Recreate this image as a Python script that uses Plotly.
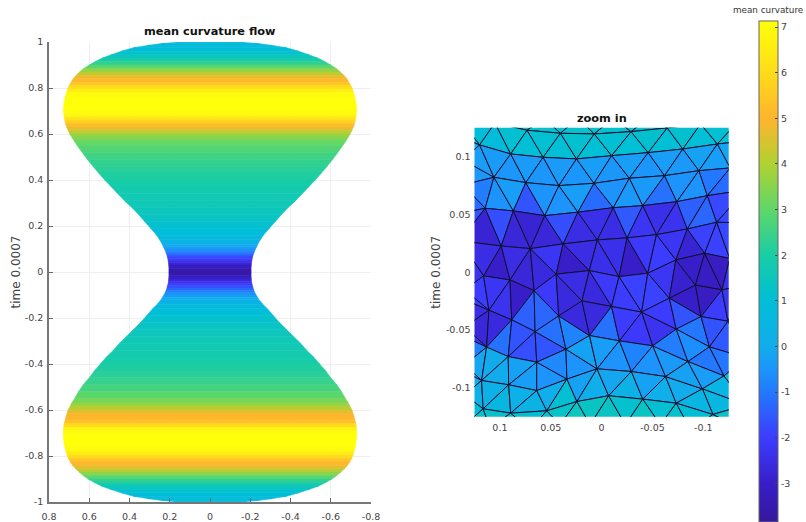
import plotly.graph_objects as go
from plotly.colors import sample_colorscale

# ---- colour bar ----
cb_min, cb_max = -3.84, 7.14
cb_ticks = [-3, -2, -1, 0, 1, 2, 3, 4, 5, 6, 7]
cmap_k = [-3.84, -3, -2, -1, -.5, 0, 1, 2, 3, 4, 5, 6, 7.14]
cmap_col = ["rgb(52,24,156)", "rgb(56,30,200)", "rgb(60,60,255)", "rgb(35,120,255)", "rgb(28,148,252)",
            "rgb(18,172,236)", "rgb(0,190,215)", "rgb(25,205,165)", "rgb(95,215,105)",
            "rgb(175,210,50)", "rgb(255,180,45)", "rgb(255,220,25)", "rgb(255,255,10)"]

# ---- left panel: band heights, half widths, curvature ----
flow_y = [1.0, .998, .993, .985, .975, .96, .945, .93, .915, .90, .885, .87, .855, .84, .825, .81, .795, .78, .765,
          .75, .73, .71, .69, .675, .66, .645, .63, .615, .60, .585, .57, .55, .52, .49, .46, .43, .40, .37, .34,
          .31, .28, .25, .22, .19, .16, .14, .13, .12, .11, .10, .09, .08, .07, .06, .05, .04, .03, .015, 0.0,
          -.015, -.03, -.04, -.05, -.06, -.07, -.08, -.09, -.10, -.11, -.12, -.13, -.14, -.16, -.19, -.22, -.25, -.28,
          -.31, -.34, -.37, -.40, -.43, -.46, -.49, -.52, -.55, -.57, -.585, -.60, -.615, -.63, -.645, -.66, -.675,
          -.69, -.71, -.73, -.75, -.765, -.78, -.795, -.81, -.825, -.84, -.855, -.87, -.885, -.90, -.915, -.93, -.945,
          -.96, -.975, -.985, -.993, -.998, -1.0]
flow_hw = [.12, .17, .24, .31, .38, .44, .49, .535, .57, .60, .627, .648, .665, .68, .69, .70, .708, .713, .718,
           .722, .726, .728, .727, .725, .722, .718, .712, .705, .696, .686, .675, .66, .635, .61, .582, .553, .523, .49, .458,
           .425, .388, .355, .325, .295, .265, .25, .243, .237, .232, .226, .221, .217, .213, .21, .208, .206, .205, .204, .204,
           .204, .205, .206, .208, .211, .214, .218, .223, .229, .236, .243, .252, .262, .285, .315, .345, .38, .415,
           .45, .48, .515, .545, .575, .60, .63, .653, .673, .687, .696, .705, .711, .716, .72, .725, .727,
           .728, .729, .727, .724, .72, .716, .711, .704, .695, .683, .668, .65, .63, .605, .575, .54, .495,
           .44, .38, .31, .24, .18, .13]
flow_k = [.75, .77, .8, .85, .9, 1.05, 1.3, 1.65, 2.1, 2.6, 3.2, 3.9, 4.5, 4.95, 5.2, 5.7, 6.3, 6.9, 7.1,
          7.14, 7.14, 7.14, 7.1, 6.7, 6.0, 5.4, 5.0, 4.4, 3.9, 3.5, 3.2, 2.95, 2.65, 2.45, 2.3, 2.15, 2.0, 1.85, 1.75,
          1.7, 1.6, 1.5, 1.3, 1.1, .85, .55, .3, .1, -.1, -.4, -.7, -1.1, -1.5, -1.9, -2.2, -2.6, -2.9, -3.4, -3.65,
          -3.4, -2.9, -2.6, -2.2, -1.9, -1.5, -1.1, -.7, -.4, -.1, .1, .3, .55, .85, 1.1, 1.3, 1.5, 1.6,
          1.7, 1.75, 1.85, 2.0, 2.15, 2.3, 2.5, 2.75, 3.1, 3.5, 3.9, 4.4, 4.8, 5.2, 5.0, 5.6, 6.4,
          7.0, 7.14, 7.14, 7.14, 7.1, 6.9, 6.3, 5.7, 5.2, 4.95, 4.5, 3.9, 3.2, 2.6, 2.1, 1.65, 1.3,
          1.05, .9, .85, .8, .77, .75]

axis1_ticks_x = [.8, .6, .4, .2, 0, -.2, -.4, -.6, -.8]
axis1_labels_x = ["0.8", "0.6", "0.4", "0.2", "0", "-0.2", "-0.4", "-0.6", "-0.8"]
axis1_ticks_y = [1, .8, .6, .4, .2, 0, -.2, -.4, -.6, -.8, -1]
axis1_labels_y = ["1", "0.8", "0.6", "0.4", "0.2", "0", "-0.2", "-0.4", "-0.6", "-0.8", "-1"]
axis2_ticks_x = [.1, .05, 0, -.05, -.1]
axis2_labels_x = ["0.1", "0.05", "0", "-0.05", "-0.1"]
axis2_ticks_y = [.1, .05, 0, -.05, -.1]
axis2_labels_y = ["0.1", "0.05", "0", "-0.05", "-0.1"]

# ---- right panel: triangle mesh (node names, data coordinates, faces with curvature) ----
mesh_nodes = {
    "A0": (.1375, .1299), "A1": (.1049, .1291), "A2": (.0733, .1228), "A3": (.0405, .1202), "A4": (.0072, .1196),
    "A5": (-.0290, .1216), "A6": (-.0645, .1248), "A7": (-.0974, .1282), "A8": (-.1319, .1282),
    "t0": (.0565, .1334), "t1": (.0230, .1334), "t2": (-.0113, .1334), "t3": (-.0461, .1334),
    "B0": (.1375, .1161), "B1": (.1200, .1101), "B2": (.0894, .1023), "B3": (.0575, .0994), "B4": (.0247, .0980),
    "B5": (-.0099, .1008), "B6": (-.0458, .1034), "B7": (-.0799, .1066), "B8": (-.1139, .1109), "B9": (-.1418, .1135),
    "X1": (.1365, .0971), "X2": (.1365, .0755), "X3": (.1375, .0513),
    "C1": (.1059, .0821), "C2": (.0746, .0775), "C3": (.0420, .0749), "C4": (.0075, .0769), "C5": (-.0273, .0813),
    "C6": (-.0619, .0835), "C7": (-.0957, .0878), "C8": (-.1265, .0902), "C9": (-.1517, .0884),
    "D1": (.1145, .0553), "D2": (.0868, .0530), "D3": (.0559, .0489), "D4": (.0233, .0519), "D5": (-.0115, .0558),
    "D6": (-.0405, .0576), "D7": (-.0740, .0610), "D8": (-.1040, .0662), "D9": (-.1418, .0712),
    "E0": (.1394, .0271), "E1": (.0987, .0227), "E2": (.0701, .0204), "E3": (.0378, .0245), "E4": (.0042, .0279),
    "E5": (-.0251, .0297), "E6": (-.0540, .0325), "E7": (-.0843, .0374), "E8": (-.1132, .0432), "E9": (-.1418, .0426),
    "F1": (.1161, -.0032), "F2": (.0901, -.0067), "M1": (.0664, -.0159), "F3": (.0447, -.0017), "F4": (.0121, .0014),
    "F5": (-.0172, -.0038), "F6": (-.0454, -.0009), "F7": (-.0730, .0106), "F8": (-.1014, .0164), "F9": (-.1260, .0119),
    "G1": (.1108, -.0329), "G2": (.0884, -.0412), "G3": (.0422, -.0378), "G4": (.0193, -.0248), "G5": (-.0098, -.0297),
    "G6": (-.0394, -.0345), "G7": (-.0666, -.0225), "G8": (-.0923, -.0112), "G9": (-.1184, -.0153),
    "P": (-.0978, -.0384), "Q": (-.1243, -.0424), "R": (-.1061, -.0646),
    "H1": (.1131, -.0648), "I1": (.0918, -.0730), "H2": (.0654, -.0514), "I2": (.0638, -.0778), "I3": (.0351, -.0666),
    "H3": (.0119, -.0548), "H4": (-.0175, -.0594), "H5": (-.0503, -.0637), "H6": (-.0734, -.0492),
    "J1": (.1180, -.0937), "J2": (.0914, -.0974), "J3": (.0638, -.1024), "J4": (.0341, -.0925), "K": (.0045, -.0836),
    "M": (-.0293, -.0859), "N": (-.0629, -.0903), "O": (-.0849, -.0773), "S": (-.1204, -.0897), "U": (-.0991, -.1009),
    "V": (-.0069, -.1069), "W": (-.0405, -.1098), "Y": (-.0734, -.1133), "Z": (.0243, -.1119), "AA": (.0539, -.1199),
    "AB": (.0894, -.1219), "AC": (.1165, -.1182), "BK": (-.1095, -.1231),
    "L1": (.1345, -.0153), "L2": (.1345, -.0239), "L3": (.1345, -.0473), "L4": (.1345, -.0559), "L5": (.1345, -.0801),
    "L6": (.1345, -.0862), "L7": (.1345, -.1061), "L8": (.1345, -.1320),
    "X4": (-.1418, -.0110), "T": (-.1418, -.0741), "c1": (-.1418, -.1147), "c2": (-.1418, -.1363),
    "b0": (.0112, -.1320), "b1": (-.0234, -.1320), "b2": (-.0579, -.1320), "b3": (-.0875, -.1363), "bb": (.0408, -.1320),
    "bl1": (.1098, -.1346), "bl2": (.0704, -.1363),
}
mesh_faces = [
    ("A1 A2 t0", 1.2), ("A2 A3 t0", 1.2), ("A3 t0 t1", 1.2), ("A3 A4 t1", 1.2), ("A4 t1 t2", 1.25), ("A4 A5 t2", 1.2),
    ("A5 t2 t3", 1.25), ("A5 A6 t3", 1.2), ("A6 A7 t3", 1.2),
    ("A0 A1 B1", 1.0), ("A0 B0 B1", .9), ("B0 X1 B1", .5), ("A1 B1 B2", .9), ("A1 A2 B2", 1.1), ("A2 B2 B3", 1.05),
    ("A2 A3 B3", 1.1), ("A3 B3 B4", 1.05), ("A3 A4 B4", 1.15), ("A4 B4 B5", 1.05), ("A4 A5 B5", 1.1), ("A5 B5 B6", 1.05),
    ("A5 A6 B6", 1.15), ("A6 B6 B7", 1.05), ("A6 A7 B7", 1.15), ("A7 B7 B8", 1.05), ("A7 A8 B8", 1.1), ("A8 B8 B9", 1.05),
    ("B1 X1 C1", -.3), ("B1 B2 C1", -.35), ("B2 C1 C2", -.45), ("B2 B3 C2", -.35), ("B3 C2 C3", -.45), ("B3 B4 C3", -.35),
    ("B4 C3 C4", -.45), ("B4 B5 C4", -.3), ("B5 C4 C5", -.45), ("B5 B6 C5", -.3), ("B6 C5 C6", -.45), ("B6 B7 C6", -.3),
    ("B7 C6 C7", -.4), ("B7 B8 C7", -.2), ("B8 C7 C8", -.3), ("B8 B9 C8", -.1), ("B9 C8 C9", -.3),
    ("X1 C1 X2", -.4), ("X2 C1 D1", -.9), ("X2 D1 X3", -1.2), ("C1 D1 D2", -.5), ("C1 C2 D2", -.3), ("C2 D2 D3", -1.6),
    ("C2 C3 D3", -.5), ("C3 D3 D4", -.5), ("C3 C4 D4", -.3), ("C4 D4 D5", -1.2), ("C4 C5 D5", -.5), ("C5 D5 D6", -.4),
    ("C5 C6 D6", -.4), ("C6 D6 D7", -1.1), ("C6 C7 D7", -.5), ("C7 D7 D8", -.5), ("C7 C8 D8", -1.0), ("C8 D8 D9", -1.2),
    ("C8 C9 D9", -1.2),
    ("X3 D1 E0", -1.6), ("D1 E0 E1", -2.8), ("D1 D2 E1", -1.7), ("D2 E1 E2", -2.7), ("D2 D3 E2", -2.8), ("D3 E2 E3", -2.7),
    ("D3 D4 E3", -1.7), ("D4 E3 E4", -2.5), ("D4 D5 E4", -2.4), ("D5 E4 E5", -2.5), ("D5 D6 E5", -1.5), ("D6 E5 E6", -2.2),
    ("D6 D7 E6", -2.4), ("D7 E6 E7", -2.3), ("D7 D8 E7", -1.4), ("D8 E7 E8", -1.3), ("D8 D9 E8", -1.8), ("D9 E8 E9", -1.8),
    ("E0 E1 F1", -2.5), ("E1 F1 F2", -3.0), ("E1 E2 F2", -2.5), ("E2 F2 M1", -2.7), ("E2 M1 F3", -2.6), ("E2 E3 F3", -2.2),
    ("E3 F3 F4", -3.0), ("E3 E4 F4", -2.5), ("E4 F4 F5", -2.4), ("E4 E5 F5", -2.4), ("E5 F5 F6", -3.0), ("E5 E6 F6", -2.1),
    ("E6 F6 F7", -2.0), ("E6 E7 F7", -2.2), ("E7 F7 F8", -2.8), ("E7 E8 F8", -1.9), ("E8 F8 F9", -1.9), ("E8 E9 F9", -1.8),
    ("E9 F9 X4", -1.8), ("E0 F1 L1", -2.3),
    ("F1 L1 G1", -2.0), ("L1 L2 G1", -2.0), ("F1 F2 G1", -2.2), ("F2 G1 G2", -2.3), ("F2 M1 G2", -3.0), ("M1 G2 H2", -1.4),
    ("M1 G3 H2", -1.3), ("M1 F3 G3", -2.1), ("F3 G3 G4", -2.6), ("F3 F4 G4", -2.5), ("F4 G4 G5", -2.6), ("F4 F5 G5", -2.1),
    ("F5 G5 G6", -2.0), ("F5 F6 G6", -1.9), ("F6 G6 G7", -1.9), ("F6 F7 G7", -2.2), ("F7 G7 G8", -2.9), ("F7 F8 G8", -3.0),
    ("F8 G8 G9", -3.1), ("F8 F9 G9", -3.1), ("G7 G8 P", -3.0), ("G8 G9 P", -3.1), ("G9 P Q", -2.0), ("F9 G9 X4", -2.3),
    ("G9 Q X4", -2.2),
    ("L2 L3 G1", -2.5), ("G1 L3 H1", -2.7), ("L3 L4 H1", -2.3), ("L4 L5 H1", -.9), ("G1 G2 H1", -2.6), ("G2 H1 I1", -1.1),
    ("G2 I1 H2", -1.6), ("I1 H2 I2", -1.7), ("H2 I2 I3", -1.6), ("G3 H2 I3", -1.1), ("G3 I3 H3", -.8), ("G3 G4 H3", -2.6),
    ("G4 H3 G5", -2.6), ("H3 G5 H4", -1.1), ("G5 G6 H4", -2.0), ("G6 H4 H5", -2.1), ("G6 H5 H6", -2.3), ("G6 G7 H6", -2.0),
    ("G7 H6 P", -1.6), ("H6 P R", -1.0), ("P Q R", -1.6), ("Q X4 T", -1.8), ("R Q T", -1.5),
    ("H1 L5 J1", -.1), ("H1 I1 J1", 0.0), ("I1 J1 J2", 0.0), ("I1 I2 J2", -.2), ("I2 J2 J3", -.3), ("I2 J3 J4", -.5),
    ("I2 I3 J4", -.7), ("I3 J4 K", -.5), ("I3 H3 K", -.2), ("H3 H4 K", -.3), ("H4 K M", -.5), ("H4 M H5", -.8),
    ("H5 M N", -.5), ("H5 N O", -.4), ("H5 H6 O", -.9), ("H6 O R", -.6), ("O R S", -1.0), ("R S T", -1.0),
    ("L5 J1 L6", 0.0), ("L6 J1 L7", .3), ("J1 AC L7", .3), ("L7 AC L8", 1.0), ("AC L8 bl1", 1.2),
    ("J1 J2 AC", .2), ("J2 AC AB", .6), ("J2 J3 AB", .2), ("J3 AB AA", .4), ("J3 AA J4", .1), ("J4 AA Z", 1.1),
    ("J4 K Z", -.2), ("K Z V", .1), ("K V M", -.1), ("M V W", .3), ("M W N", -.2), ("N W Y", .1), ("N Y U", 0.0),
    ("N O U", -.2), ("O U S", -.3), ("U S c1", .5), ("U BK c1", .6), ("U Y BK", .5), ("S T c1", .9),
    ("AC AB bl1", 1.2), ("AB bl1 bl2", 1.3), ("AB AA bl2", 1.1), ("AA bl2 bb", 1.3), ("AA Z bb", 1.3), ("Z bb b0", 1.5),
    ("Z V b0", 1.4), ("V b0 b1", 1.4), ("V W b1", 1.2), ("W b1 b2", 1.4), ("W Y b2", 1.1), ("Y b2 b3", 1.2),
    ("Y BK b3", 1.0), ("BK b3 c2", 1.4), ("BK c1 c2", 1.3),
]

FONT = "DejaVu Sans"
TXT = "#444444"
W, H = 806, 522
span = cb_max - cb_min
scale = [[(k - cb_min) / span, c] for k, c in zip(cmap_k, cmap_col)]


def colour(k):
    return sample_colorscale(scale, [min(1, max(0, (k - cb_min) / span))])[0]


fig = go.Figure()

# left panel silhouette, one filled band per pair of rows
for i in range(len(flow_y) - 1):
    c = colour((flow_k[i] + flow_k[i + 1]) / 2)
    fig.add_trace(go.Scatter(
        x=[-flow_hw[i], flow_hw[i], flow_hw[i + 1], -flow_hw[i + 1], -flow_hw[i]],
        y=[flow_y[i], flow_y[i], flow_y[i + 1], flow_y[i + 1], flow_y[i]],
        mode="lines", fill="toself", fillcolor=c, line=dict(color=c, width=0.6),
        hoverinfo="skip", showlegend=False, xaxis="x", yaxis="y"))

# right panel mesh
for names, k in mesh_faces:
    pts = [mesh_nodes[n] for n in names.split()]
    pts.append(pts[0])
    fig.add_trace(go.Scatter(
        x=[p[0] for p in pts], y=[p[1] for p in pts],
        mode="lines", fill="toself", fillcolor=colour(k), line=dict(color="#101030", width=1),
        hoverinfo="skip", showlegend=False, xaxis="x2", yaxis="y2"))

# trace carrying the colour bar
fig.add_trace(go.Scatter(x=[None], y=[None], mode="markers", showlegend=False, xaxis="x", yaxis="y",
                         marker=dict(color=[0], coloraxis="coloraxis")))

tick_font = dict(family=FONT, size=9.5, color=TXT)
fig.update_layout(
    width=W, height=H, margin=dict(l=0, r=0, t=0, b=0, autoexpand=False), paper_bgcolor="white", plot_bgcolor="white",
    font=dict(family=FONT, color=TXT), showlegend=False,
    xaxis=dict(domain=[49 / W, 371 / W], range=[.8, -.8], tickmode="array", tickvals=axis1_ticks_x,
               ticktext=axis1_labels_x, ticks="inside", ticklen=4, tickcolor="#666", showline=True, linecolor="#777",
               linewidth=1.5, showgrid=True, gridcolor="#eeeeee", gridwidth=1, zeroline=False, tickfont=tick_font,
               ticklabelstandoff=5),
    yaxis=dict(domain=[1 - 502 / H, 1 - 42 / H], range=[-1, 1], tickmode="array", tickvals=axis1_ticks_y,
               ticktext=axis1_labels_y, ticks="inside", ticklen=4, tickcolor="#666", showline=True, linecolor="#777",
               linewidth=1.5, showgrid=True, gridcolor="#eeeeee", gridwidth=1, zeroline=False, tickfont=tick_font,
               ticklabelstandoff=2,
               title=dict(text="time 0.0007", font=dict(family=FONT, size=12, color=TXT), standoff=2)),
    xaxis2=dict(domain=[474.5 / W, 728.7 / W], range=[.125, -.125], anchor="y2", tickmode="array", tickvals=axis2_ticks_x,
                ticktext=axis2_labels_x, ticks="", showline=False, showgrid=False, zeroline=False, tickfont=tick_font,
                ticklabelstandoff=4),
    yaxis2=dict(domain=[1 - 416.7 / H, 1 - 127.7 / H], range=[-.125, .125], anchor="x2", tickmode="array",
                tickvals=axis2_ticks_y, ticktext=axis2_labels_y, ticks="", showline=False, showgrid=False, zeroline=False,
                tickfont=tick_font, ticklabelstandoff=3,
                title=dict(text="time 0.0007", font=dict(family=FONT, size=12, color=TXT), standoff=2)),
    coloraxis=dict(cmin=cb_min, cmax=cb_max, colorscale=scale,
                   colorbar=dict(xref="container", yref="container", x=758.7 / W, xanchor="left", y=1 - 20.7 / H, yanchor="top",
                                 thicknessmode="pixels", thickness=19.3, lenmode="pixels", len=H - 20.7, xpad=0, ypad=0,
                                 outlinecolor="#666", outlinewidth=1, ticks="inside", ticklen=3, tickcolor="#444",
                                 tickvals=cb_ticks, ticktext=[str(v) for v in cb_ticks], tickfont=tick_font)),
    annotations=[
        dict(text="<b>mean curvature flow</b>", xref="paper", yref="paper", x=210 / W, y=1 - 31 / H, xanchor="center",
             yanchor="middle", showarrow=False, font=dict(family=FONT, size=11.3, color="#111")),
        dict(text="<b>zoom in</b>", xref="paper", yref="paper", x=601.5 / W, y=1 - 118 / H, xanchor="center",
             yanchor="middle", showarrow=False, font=dict(family=FONT, size=11.3, color="#111")),
        dict(text="mean curvature", xref="paper", yref="paper", x=768 / W, y=1 - 10.5 / H, xanchor="center",
             yanchor="middle", showarrow=False, font=dict(family=FONT, size=8.8, color="#333")),
    ],
)
fig.write_html("out.html", config={"displayModeBar": False},
               post_script="document.body.style.margin='0';document.body.style.overflow='hidden';")
